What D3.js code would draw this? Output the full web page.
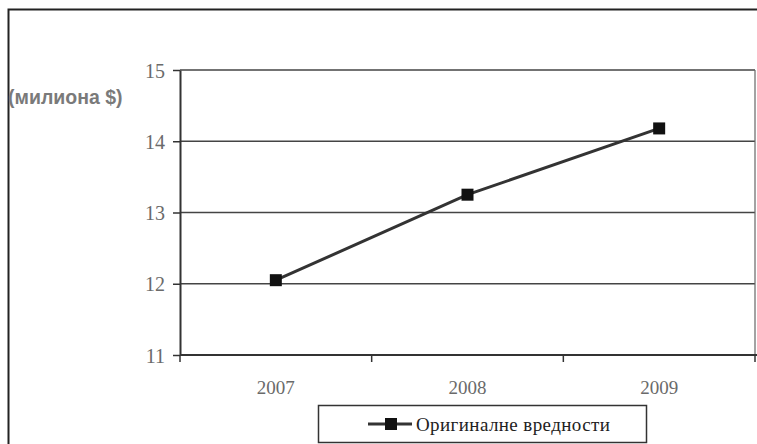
<!DOCTYPE html>
<html>
<head>
<meta charset="utf-8">
<script src="https://cdn.jsdelivr.net/npm/d3@7"></script>
<style>
  body { margin: 0; background: #fff; }
  .serif { font-family: "Liberation Serif", "DejaVu Serif", serif; }
  .sans { font-family: "Liberation Sans", Arial, sans-serif; }
</style>
</head>
<body>
<script>
// data
const years = ['2007', '2008', '2009'];
const values = [12.05, 13.25, 14.18];
const yTicks = [11, 12, 13, 14, 15];
const seriesName = 'Оригиналне вредности';
const yLabel = '(милиона $)';

const width = 757, height = 444;
const plot = { left: 180, right: 755, top: 70, bottom: 355 };

const svg = d3.select('body').append('svg')
  .attr('width', width).attr('height', height);

// outer frame (right and bottom fall off the canvas)
svg.append('rect').attr('x', 8.5).attr('y', 9.5).attr('width', 760).attr('height', 450)
  .attr('fill', 'none').attr('stroke', '#222').attr('stroke-width', 2);

const x = d3.scaleBand().domain(years).range([plot.left, plot.right]);
const y = d3.scaleLinear().domain([11, 15]).range([plot.bottom, plot.top]);

// gridlines
svg.append('g').selectAll('line').data(yTicks).join('line')
  .attr('x1', plot.left).attr('x2', plot.right)
  .attr('y1', d => y(d)).attr('y2', d => y(d))
  .attr('stroke', '#444').attr('stroke-width', 1.5);

// right border of plot
svg.append('line').attr('x1', plot.right).attr('x2', plot.right)
  .attr('y1', plot.top).attr('y2', plot.bottom)
  .attr('stroke', '#666').attr('stroke-width', 1.2);

// y axis
const yAxis = svg.append('g').attr('transform', `translate(${plot.left},0)`)
  .call(d3.axisLeft(y).tickValues(yTicks).tickFormat(d3.format('d'))
    .tickSize(7).tickSizeOuter(0).tickPadding(8));
yAxis.attr('font-family', null).attr('font-size', null);
yAxis.select('.domain').attr('stroke', '#333').attr('stroke-width', 2);
yAxis.selectAll('.tick line').attr('stroke', '#333').attr('stroke-width', 1.5);
yAxis.selectAll('.tick text').attr('class', 'serif')
  .style('font-size', '20px').attr('fill', '#6a6a6a').attr('dy', '0.35em');

// x axis: ticks at band edges
const xAxis = svg.append('g').attr('transform', `translate(0,${plot.bottom})`);
xAxis.append('line').attr('x1', plot.left).attr('x2', width)
  .attr('stroke', '#333').attr('stroke-width', 2);
const edges = years.map(d => x(d)).concat([x(years[years.length - 1]) + x.bandwidth()]);
xAxis.selectAll('.edge').data(edges).join('line').attr('class', 'edge')
  .attr('x1', d => d).attr('x2', d => d).attr('y1', 0).attr('y2', 7)
  .attr('stroke', '#333').attr('stroke-width', 1.5);
xAxis.selectAll('text').data(years).join('text').attr('class', 'serif')
  .attr('x', d => x(d) + x.bandwidth() / 2).attr('y', 39)
  .attr('text-anchor', 'middle')
  .style('font-size', '19px').attr('fill', '#6a6a6a')
  .text(d => d);

// y label
svg.append('text').attr('class', 'sans').attr('x', 8).attr('y', 104)
  .style('font-size', '19.5px').style('font-weight', 'bold').attr('fill', '#7a7a7a')
  .text(yLabel);

// series line
const cx = d => x(d) + x.bandwidth() / 2;
const line = d3.line().x((d, i) => cx(years[i])).y(d => y(d));
svg.append('path').datum(values).attr('d', line)
  .attr('fill', 'none').attr('stroke', '#333').attr('stroke-width', 3);
svg.selectAll('.pt').data(values).join('rect').attr('class', 'pt')
  .attr('x', (d, i) => cx(years[i]) - 6).attr('y', d => y(d) - 6)
  .attr('width', 12).attr('height', 12).attr('fill', '#111');

// legend
const lg = svg.append('g');
lg.append('rect').attr('x', 318.5).attr('y', 405.5).attr('width', 328).attr('height', 37)
  .attr('fill', '#fff').attr('stroke', '#333').attr('stroke-width', 1.5);
lg.append('line').attr('x1', 368).attr('x2', 412).attr('y1', 424).attr('y2', 424)
  .attr('stroke', '#333').attr('stroke-width', 3);
lg.append('rect').attr('x', 385).attr('y', 418).attr('width', 12).attr('height', 12).attr('fill', '#111');
lg.append('text').attr('class', 'serif').attr('x', 416).attr('y', 431)
  .style('font-size', '19px').style('letter-spacing', '0.4px').attr('fill', '#222')
  .text(seriesName);
</script>
</body>
</html>
